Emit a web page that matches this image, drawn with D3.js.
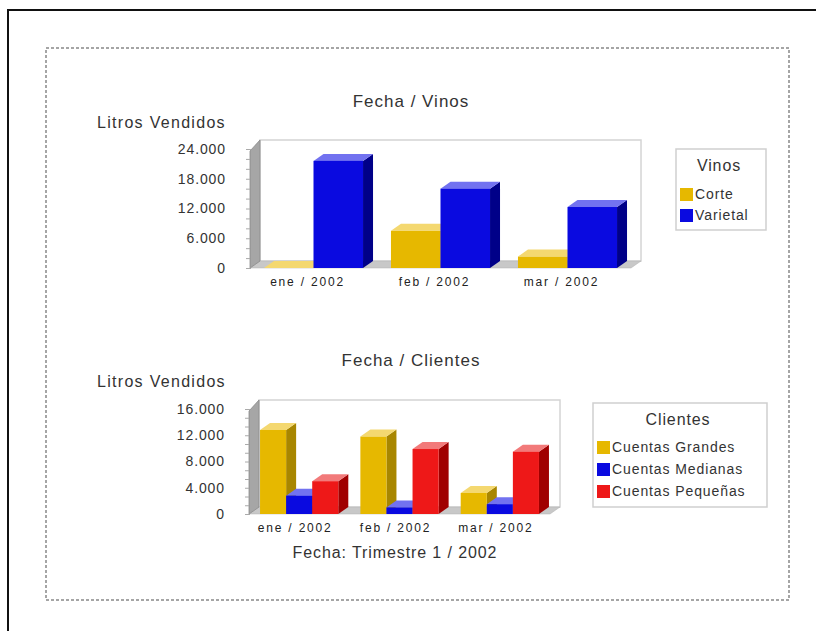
<!DOCTYPE html>
<html>
<head>
<meta charset="utf-8">
<script src="https://cdn.jsdelivr.net/npm/d3@7/dist/d3.min.js"></script>
<style>
  html, body { margin: 0; padding: 0; background: #fff; }
  svg { display: block; font-family: "Liberation Sans", Arial, sans-serif; }
</style>
</head>
<body>
<svg id="chart" width="816" height="631"></svg>
<script>
// ---- data ----
const months = ["ene / 2002", "feb / 2002", "mar / 2002"];

const vinosSeries = ["Corte", "Varietal"];
const vinosCorte = [0, 7500, 2300];
const vinosVarietal = [21600, 16000, 12300];
const vinosTicks = [0, 6000, 12000, 18000, 24000];

const clientesSeries = ["Cuentas Grandes", "Cuentas Medianas", "Cuentas Pequeñas"];
const clientesGrandes = [12800, 11800, 3200];
const clientesMedianas = [2800, 1000, 1500];
const clientesPequenas = [5000, 9900, 9500];
const clientesTicks = [0, 4000, 8000, 12000, 16000];

// ---- styles ----
const palette = {
  yellow: { front: "#e6b800", top: "#f4d870", side: "#a88600" },
  blue:   { front: "#0a0ae0", top: "#7272f0", side: "#000088" },
  red:    { front: "#ee1818", top: "#f27a7a", side: "#a00000" }
};
const textColor = "#333";
const fontFamily = "\"Liberation Sans\", Arial, sans-serif";
const locale = d3.formatLocale({ decimal: ",", thousands: ".", grouping: [3], currency: ["", ""] });
const fmt = locale.format(",d");

const svg = d3.select("#chart");

// page frame and dotted border
svg.append("rect").attr("x", 8).attr("y", 10).attr("width", 900).attr("height", 700)
  .attr("fill", "none").attr("stroke", "#111").attr("stroke-width", 2);
svg.append("rect").attr("x", 46).attr("y", 48).attr("width", 743).attr("height", 552)
  .attr("fill", "none").attr("stroke", "#888").attr("stroke-width", 1.5)
  .attr("stroke-dasharray", "3,2");

function drawChart(cfg) {
  const g = svg.append("g");
  const dx = 10, dy = -7;
  const x = d3.scaleBand().domain(cfg.categories).range([cfg.x0, cfg.x1])
    .paddingInner(0.22).paddingOuter(0.11);
  const sub = d3.scaleBand().domain(cfg.series.map(s => s.name)).range([0, x.bandwidth()]);
  const y = d3.scaleLinear().domain([0, d3.max(cfg.ticks)]).range([cfg.yBase, cfg.yTop]);

  // title
  g.append("text").attr("x", cfg.titleX).attr("y", cfg.titleY).attr("text-anchor", "middle")
    .attr("font-size", 17).attr("letter-spacing", "1px").attr("fill", textColor).text(cfg.title);
  g.append("text").attr("x", 97).attr("y", cfg.titleY + 21).attr("font-size", 16)
    .attr("letter-spacing", "1.3px").attr("fill", textColor).text("Litros Vendidos");

  // back wall
  g.append("rect").attr("x", cfg.x0 + dx).attr("y", cfg.yTop + dy - 2)
    .attr("width", cfg.x1 - cfg.x0).attr("height", cfg.yBase - cfg.yTop + 2)
    .attr("fill", "#fff").attr("stroke", "#d4d4d4").attr("stroke-width", 1.5);
  // floor
  g.append("path")
    .attr("d", `M${cfg.x0},${cfg.yBase}L${cfg.x1},${cfg.yBase}L${cfg.x1 + dx},${cfg.yBase + dy}L${cfg.x0 + dx},${cfg.yBase + dy}Z`)
    .attr("fill", "#c8c8c8").attr("stroke", "#b0b0b0").attr("stroke-width", 0.5);
  // left wall
  g.append("path")
    .attr("d", `M${cfg.x0},${cfg.yTop + 2}L${cfg.x0 + dx},${cfg.yTop + dy - 2}L${cfg.x0 + dx},${cfg.yBase + dy}L${cfg.x0},${cfg.yBase}Z`)
    .attr("fill", "#a6a6a6").attr("stroke", "#8a8a8a").attr("stroke-width", 0.8);

  // bars
  cfg.series.forEach(s => {
    s.values.forEach((v, i) => {
      const bx = x(cfg.categories[i]) + sub(s.name);
      const bw = sub.bandwidth();
      const top = y(v), base = y(0);
      const c = palette[s.color];
      const bar = g.append("g");
      bar.append("path")
        .attr("d", `M${bx + bw},${base}L${bx + bw + dx},${base + dy}L${bx + bw + dx},${top + dy}L${bx + bw},${top}Z`)
        .attr("fill", c.side);
      bar.append("path")
        .attr("d", `M${bx},${top}L${bx + dx},${top + dy}L${bx + bw + dx},${top + dy}L${bx + bw},${top}Z`)
        .attr("fill", c.top);
      bar.append("rect").attr("x", bx).attr("y", top).attr("width", bw).attr("height", base - top)
        .attr("fill", c.front);
    });
  });

  // y axis: minor and major ticks with labels
  const axisG = g.append("g").attr("transform", `translate(${cfg.x0},0)`);
  const step = cfg.ticks[1] - cfg.ticks[0];
  const minor = d3.range(0, d3.max(cfg.ticks) + 1, step / 3);
  axisG.append("g")
    .call(d3.axisLeft(y).tickValues(minor).tickSize(4).tickFormat(""))
    .call(a => a.select(".domain").attr("stroke", "#999"))
    .call(a => a.selectAll("line").attr("stroke", "#aaa"));
  axisG.append("g")
    .call(d3.axisLeft(y).tickValues(cfg.ticks).tickSize(0).tickPadding(24).tickFormat(fmt))
    .call(a => a.select(".domain").remove())
    .call(a => a.selectAll("text").attr("font-size", 14).attr("fill", textColor)
      .attr("letter-spacing", "0.9px").attr("font-family", fontFamily));

  // x axis labels
  const xAxis = g.append("g").attr("transform", `translate(0,${cfg.yBase})`)
    .call(d3.axisBottom(x).tickSize(0).tickPadding(9));
  xAxis.select(".domain").remove();
  xAxis.selectAll("text").attr("font-size", 12).attr("fill", "#222")
    .attr("dx", cfg.labelShift)
    .attr("letter-spacing", "1.8px").attr("font-family", fontFamily);

  // legend
  const lg = g.append("g");
  lg.append("rect").attr("x", cfg.legend.x).attr("y", cfg.legend.y)
    .attr("width", cfg.legend.w).attr("height", cfg.legend.h)
    .attr("fill", "#fff").attr("stroke", "#cfcfcf").attr("stroke-width", 1.5);
  lg.append("text").attr("x", cfg.legend.x + cfg.legend.w / 2 - 2).attr("y", cfg.legend.y + 22)
    .attr("text-anchor", "middle").attr("font-size", 16).attr("letter-spacing", "0.9px")
    .attr("fill", textColor).text(cfg.legendTitle);
  cfg.series.forEach((s, i) => {
    const iy = cfg.legend.y + cfg.legend.firstRow + i * cfg.legend.rowGap;
    lg.append("rect").attr("x", cfg.legend.x + 4).attr("y", iy - 11).attr("width", 13).attr("height", 13)
      .attr("fill", palette[s.color].front);
    lg.append("text").attr("x", cfg.legend.x + 19).attr("y", iy).attr("font-size", 14)
      .attr("letter-spacing", "0.9px").attr("fill", textColor).text(s.name);
  });
}

drawChart({
  title: "Fecha / Vinos", titleX: 411, titleY: 107,
  categories: months,
  series: [
    { name: vinosSeries[0], values: vinosCorte, color: "yellow" },
    { name: vinosSeries[1], values: vinosVarietal, color: "blue" }
  ],
  ticks: vinosTicks,
  x0: 250, x1: 631, yBase: 268, yTop: 149, labelShift: -6,
  legend: { x: 676, y: 149, w: 90, h: 81, firstRow: 50, rowGap: 21 },
  legendTitle: "Vinos"
});

drawChart({
  title: "Fecha / Clientes", titleX: 411, titleY: 366,
  categories: months,
  series: [
    { name: clientesSeries[0], values: clientesGrandes, color: "yellow" },
    { name: clientesSeries[1], values: clientesMedianas, color: "blue" },
    { name: clientesSeries[2], values: clientesPequenas, color: "red" }
  ],
  ticks: clientesTicks,
  x0: 249, x1: 550, yBase: 514, yTop: 409, labelShift: -4,
  legend: { x: 593, y: 403, w: 174, h: 104, firstRow: 49, rowGap: 22 },
  legendTitle: "Clientes"
});

// footer
svg.append("text").attr("x", 395).attr("y", 558).attr("text-anchor", "middle")
  .attr("font-size", 16).attr("letter-spacing", "0.9px").attr("fill", textColor)
  .text("Fecha: Trimestre 1 / 2002");
</script>
</body>
</html>
